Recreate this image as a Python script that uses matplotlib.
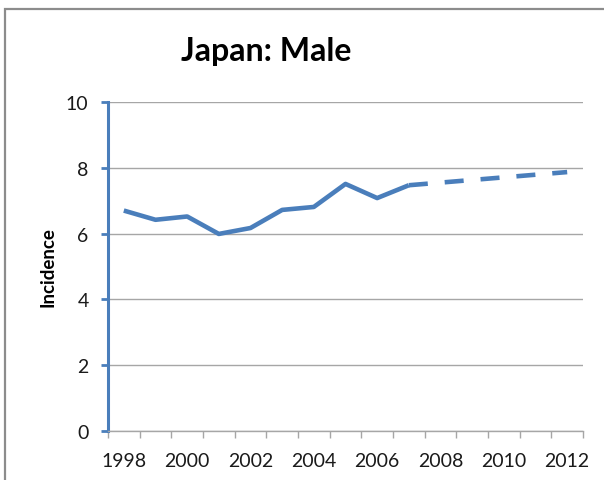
import matplotlib
matplotlib.use("Agg")
import matplotlib.pyplot as plt
from matplotlib.patches import Rectangle

plt.rcParams['font.family'] = ['Lato', 'DejaVu Sans']

# data
years = [str(y) for y in range(1998, 2013)]
observed_years = ['1998', '1999', '2000', '2001', '2002', '2003', '2004',
                  '2005', '2006', '2007']
observed = [6.70, 6.42, 6.52, 5.99, 6.17, 6.72, 6.81, 7.51, 7.08, 7.47]
projected_years = ['2007', '2012']
projected = [7.47, 7.87]
yticks = [0, 2, 4, 6, 8, 10]
xlabels = ['1998', '2000', '2002', '2004', '2006', '2008', '2010', '2012']

blue = '#4A7EBB'
grey = '#A6A6A6'

fig = plt.figure(figsize=(6.04, 4.81), dpi=100)
ax = fig.add_axes([108 / 604, 1 - 432 / 481, 475 / 604, 329 / 481])

idx = {y: i for i, y in enumerate(years)}
ax.plot([idx[y] for y in observed_years], observed, color=blue, lw=3.3,
        solid_capstyle='butt', solid_joinstyle='round', zorder=3)
ax.plot([idx[y] for y in projected_years], projected, color=blue, lw=3.3,
        dashes=(4.15, 3.7), dash_capstyle='butt', zorder=3)

ax.set_xlim(-0.5, len(years) - 0.5)
ax.set_ylim(0, 10)
ax.set_yticks(yticks)
ax.yaxis.grid(True, color=grey, lw=1)
ax.set_axisbelow(True)

# category-style x ticks on the boundaries, labels every other year
ax.set_xticks([i - 0.5 for i in range(len(years) + 1)])
ax.set_xticklabels([])
ax.set_xticks([idx[y] for y in xlabels], minor=True)
ax.set_xticklabels(xlabels, minor=True)
ax.tick_params(axis='x', which='major', direction='out', length=5,
               color=grey, width=1)
ax.tick_params(axis='x', which='minor', length=0, pad=15, labelsize=14,
               labelcolor='#1a1a1a')
ax.tick_params(axis='y', direction='out', length=5, color=blue, width=2,
               pad=9, labelsize=14, labelcolor='#1a1a1a')

for s in ['top', 'right']:
    ax.spines[s].set_visible(False)
ax.spines['left'].set_color(blue)
ax.spines['left'].set_linewidth(2.2)
ax.spines['bottom'].set_color(grey)
ax.spines['bottom'].set_linewidth(1)

ax.set_ylabel('Incidence', fontsize=13.5, fontweight='bold', labelpad=7)

fig.text(266 / 604, 1 - 52 / 481, 'Japan: Male', fontsize=23,
         fontweight='bold', ha='center', va='center')

fig.patches.append(Rectangle((5 / 604, -0.1), 1.2, (1 - 10 / 481) + 0.1,
                             transform=fig.transFigure, fill=False,
                             edgecolor='#8C8C8C', lw=1.6))

fig.savefig('out.png', dpi=100)
